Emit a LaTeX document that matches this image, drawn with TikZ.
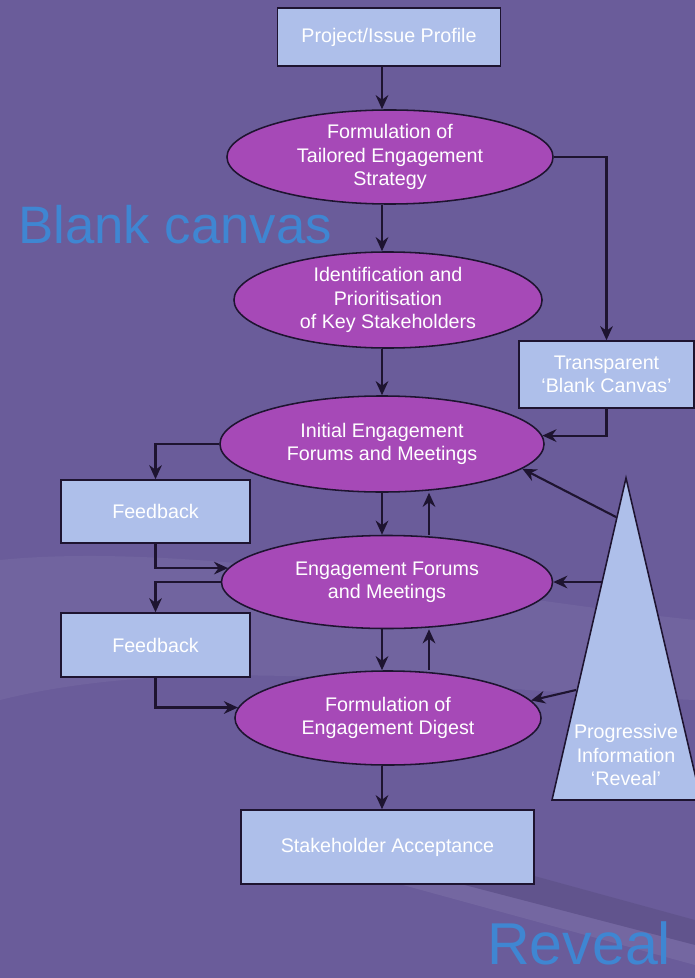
\documentclass[tikz,border=0pt]{standalone}
\usepackage{fontspec}
\setmainfont{Liberation Sans}
\usetikzlibrary{shapes.geometric,arrows.meta}

\definecolor{bgpurple}{HTML}{6A5C9A}
\definecolor{boxblue}{HTML}{AEBFEA}
\definecolor{ellpurple}{HTML}{A649B7}
\definecolor{darkline}{HTML}{1E1430}
\definecolor{canvasblue}{HTML}{3F86D2}

\begin{document}
\begin{tikzpicture}[
	boxnode/.style={draw=darkline, line width=1.1pt, fill=boxblue, text=white, inner sep=0pt, align=center, font=\fontsize{14}{16.5}\selectfont},
	ellnode/.style={ellipse, draw=darkline, line width=1.1pt, fill=ellpurple, text=white, inner sep=0pt, align=center, font=\fontsize{14}{16.5}\selectfont},
	every edge/.style={draw=darkline, line width=1.5pt, -{Stealth[length=10pt,width=9pt]}},
	hv/.style={to path={-| (\tikztotarget)}},
	vh/.style={to path={|- (\tikztotarget)}}]
	\pgfsetxvec{\pgfpoint{0.025cm}{0.0cm}}
	\pgfsetyvec{\pgfpoint{0.0cm}{-0.025cm}}

	% backdrop
	\fill[bgpurple] (0,0) rectangle (695,978);
	\useasboundingbox (0,0) rectangle (695,978);
	\fill[white, opacity=0.05] (0,560) .. controls (200,540) and (500,600) .. (695,620) -- (695,700) .. controls (450,690) and (200,650) .. (0,700) -- cycle;
	\fill[black, opacity=0.08] (330,820) -- (695,920) -- (695,945) -- (330,850) -- cycle;
	\fill[white, opacity=0.07] (330,850) -- (695,945) -- (695,965) -- (330,865) -- cycle;

	\node[anchor=base west, text=canvasblue, inner sep=0pt, font=\fontsize{37.5}{40}\selectfont] at (18,243) (blank) {Blank canvas};
	\node[anchor=base west, text=canvasblue, inner sep=0pt, font=\fontsize{42}{44}\selectfont] at (487,964) (revealword) {Reveal};

	\coordinate (spine) at (382,0);
	\coordinate (back) at (429,0);

	\node[boxnode, minimum width=5.575cm, minimum height=1.45cm] at (389,37) (profile) {Project/Issue Profile};
	\node[ellnode, minimum width=8.15cm, minimum height=2.35cm] at (390,157) (strategy) {Formulation of\\Tailored Engagement\\Strategy};
	\node[ellnode, minimum width=7.7cm, minimum height=2.4cm] at (388,300) (stakeid) {Identification and\\Prioritisation\\of Key Stakeholders};
	\node[ellnode, minimum width=8.1cm, minimum height=2.4cm] at (382,444) (initial) {Initial Engagement\\Forums and Meetings};
	\node[ellnode, minimum width=8.275cm, minimum height=2.325cm] at (387,582) (forums) {Engagement Forums\\and Meetings};
	\node[ellnode, minimum width=7.65cm, minimum height=2.35cm] at (388,718) (digest) {Formulation of\\Engagement Digest};
	\node[boxnode, minimum width=7.325cm, minimum height=1.85cm] at (387.5,847) (accept) {Stakeholder Acceptance};

	\node[boxnode, minimum width=4.375cm, minimum height=1.675cm] at (606.5,374.5) (transp) {Transparent\\`Blank Canvas'};
	\node[boxnode, minimum width=4.725cm, minimum height=1.575cm] at (155.5,511.5) (feedA) {Feedback};
	\node[boxnode, minimum width=4.725cm, minimum height=1.6cm] at (155.5,645) (feedB) {Feedback};

	% reveal wedge
	\coordinate (apex) at (626,478);
	\coordinate (baseL) at (552,800);
	\coordinate (baseR) at (701,800);
	\filldraw[fill=boxblue, draw=darkline, line width=1.1pt] (apex) -- (baseL) -- (baseR) -- cycle;
	\node[text=white, align=center, inner sep=0pt, font=\fontsize{14}{16.5}\selectfont] at (626,755) (wedge) {Progressive\\Information\\`Reveal'};
	\coordinate (r1) at (616,517);
	\coordinate (r2) at (602,582);
	\coordinate (r3) at (576,690);

	\path (profile.south -| spine)
	edge (strategy.north -| spine)
	(strategy.south -| spine)
	edge (stakeid.north -| spine)
	(stakeid.south -| spine)
	edge (initial.north -| spine)
	(initial.south -| spine)
	edge (forums.north -| spine)
	(forums.north -| back)
	edge (initial.south -| back)
	(forums.south -| spine)
	edge (digest.north -| spine)
	(digest.north -| back)
	edge (forums.south -| back)
	(digest.south -| spine)
	edge (accept.north -| spine);
	\path (strategy.east)
	edge[hv] (transp.north)
	(transp.south)
	edge[vh] (initial.3)
	(initial.west)
	edge[hv] (feedA.north)
	(feedA.south)
	edge[vh] (forums.175)
	(forums.west)
	edge[hv] (feedB.north)
	(feedB.south)
	edge[vh] (digest.176);
	\path (r1)
	edge (initial.-10)
	(r2)
	edge (forums.east)
	(r3)
	edge (digest.7);

\end{tikzpicture}
\end{document}
